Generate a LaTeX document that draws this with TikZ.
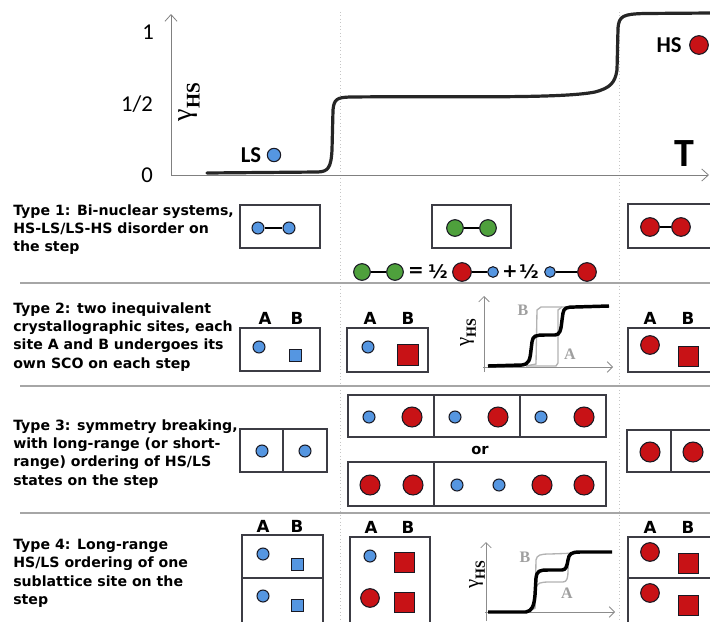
\documentclass[tikz,border=0pt]{standalone}
\usepackage{fontspec}
\newfontfamily\verd{DejaVu Sans}
\newfontfamily\calib{Carlito}
\newfontfamily\timesf{Liberation Serif}
\usetikzlibrary{arrows.meta}
\definecolor{lsblue}{RGB}{85,150,225}
\definecolor{hsred}{RGB}{200,18,22}
\definecolor{mixgreen}{RGB}{78,160,60}
\definecolor{edge}{RGB}{25,25,35}
\newcommand{\ghs}[2]{{\timesf\fontsize{#1}{#1}\selectfont γ\raisebox{-0.3em}{\fontsize{#2}{#2}\selectfont\bfseries HS}}}
\tikzset{
  ls/.style={circle,draw=edge,fill=lsblue,line width=0.8pt,inner sep=0pt,minimum size=9pt},
  hs/.style={circle,draw=edge,fill=hsred,line width=0.8pt,inner sep=0pt,minimum size=14pt},
  mix/.style={circle,draw=edge,fill=mixgreen,line width=0.8pt,inner sep=0pt,minimum size=12.5pt},
  lssq/.style={rectangle,draw=edge,fill=lsblue,line width=0.7pt,inner sep=0pt,minimum size=9pt},
  hssq/.style={rectangle,draw=edge,fill=hsred,line width=0.7pt,inner sep=0pt,minimum size=16pt},
  bond/.style={line width=2pt,black},
  cell/.style={draw=edge!85,line width=0.9pt},
  rowrule/.style={draw=gray!70,line width=1.4pt},
  tline/.style={draw=gray!45,dotted,line width=0.6pt},
  axis/.style={draw=gray,line width=0.6pt,-{Straight Barb[length=5pt,width=9pt]}},
  smallaxis/.style={draw=gray!90,line width=0.6pt,-{Straight Barb[length=4pt,width=8pt]}},
  typetext/.style={anchor=north west,align=left,inner sep=0pt,
    font=\verd\bfseries\fontsize{10.6}{13.8}\selectfont},
  site/.style={inner sep=0pt,font=\verd\bfseries\fontsize{12.5}{12.5}\selectfont},
  tick/.style={inner sep=0pt,font=\calib\fontsize{17}{17}\selectfont},
  spin/.style={inner sep=0pt,font=\calib\bfseries\fontsize{17}{17}\selectfont},
  ghslab/.style={inner sep=0pt,rotate=90},
  curvelab/.style={inner sep=0pt,text=gray!75,font=\timesf\bfseries\fontsize{12}{12}\selectfont},
  eq/.style={inner sep=0pt,font=\verd\bfseries\fontsize{14}{14}\selectfont}
}
\begin{document}
\begin{tikzpicture}[x=0.75pt,y=-0.75pt]
\useasboundingbox (0,0) rectangle (710,621);
\clip (0,0) rectangle (710,621);

% main curve
\draw[tline] (340,12) -- (340,621);
\draw[tline] (619,12) -- (619,621);
\draw[axis] (171,176) -- (171,14);
\draw[axis] (171,175) -- (709,175);
\node[tick] (t1) at (148,32) {1};
\node[tick] (thalf) at (137,104) {1/2};
\node[tick] (t0) at (147,175) {0};
\node[ghslab] (gam) at (189,102) {\ghs{21}{14.5}};
\node[font=\calib\bfseries\fontsize{30}{30}\selectfont,inner sep=0pt] (temp) at (684,154) {T};
\draw[line width=2.4pt,black!85,line cap=round] (207,173) -- (318,172)
  .. controls (328,171.5) and (331,168) .. (332,150) -- (333,110)
  .. controls (334,99) and (337,97.5) .. (350,97)
  .. controls (450,96) and (560,99) .. (595,92)
  .. controls (610,88) and (615,83) .. (617,70) -- (618,28)
  .. controls (619,16) and (623,14) .. (645,13.5) -- (712,13);
\node[spin] (lslab) at (251,155) {LS};
\node[ls,minimum size=10pt] (lsdot) at (274,155) {};
\node[spin] (hslab) at (669,45) {HS};
\node[hs] (hsdot) at (699,45) {};

% type 1
\node[typetext] (type1) at (13,204) {Type 1: Bi-nuclear systems,\\HS-LS/LS-HS disorder on\\the step};
\draw[cell] (240,205) rectangle (320,248);
\node[ls] (a1) at (258,228) {};
\node[ls] (a2) at (289,228) {};
\draw[bond] (a1) -- (a2);
\draw[cell] (432,205) rectangle (511,248);
\node[mix] (m1) at (455,228) {};
\node[mix] (m2) at (488,228) {};
\draw[bond] (m1) -- (m2);
\draw[cell] (628,204) rectangle (712,248);
\node[hs] (h1) at (650,227) {};
\node[hs] (h2) at (681,227) {};
\draw[bond] (h1) -- (h2);
\node[mix] (e1) at (362,272) {};
\node[mix] (e2) at (395,272) {};
\draw[bond] (e1) -- (e2);
\node[eq] (eqs) at (416,272) {=};
\node[eq] (half1) at (438,272) {½};
\node[hs] (e3) at (462,272) {};
\node[ls,minimum size=8pt] (e4) at (493,272) {};
\draw[bond] (e3) -- (e4);
\node[eq] (plus) at (510,272) {+};
\node[eq] (half2) at (529,272) {½};
\node[ls,minimum size=8pt] (e5) at (550,272) {};
\node[hs] (e6) at (587,272) {};
\draw[bond] (e5) -- (e6);
\draw[rowrule] (20,283) -- (710,283);

% type 2
\node[typetext] (type2) at (13,302) {Type 2: two inequivalent\\crystallographic sites, each\\site A and B undergoes its\\own SCO on each step};
\draw[cell] (240,328) rectangle (320,371);
\node[site] (sa1) at (265,318) {A};
\node[site] (sb1) at (297,318) {B};
\node[ls] (c1) at (259,347) {};
\node[lssq] (q1) at (295,355) {};
\draw[cell] (347,328) rectangle (428,372);
\node[site] (sa2) at (370,318) {A};
\node[site] (sb2) at (408,318) {B};
\node[ls] (c2) at (368,347) {};
\node[hssq] (q2) at (408,355) {};
\draw[cell] (628,328) rectangle (712,372);
\node[site] (sa3) at (650,318) {A};
\node[site] (sb3) at (688,318) {B};
\node[hs] (c3) at (650,345) {};
\node[hssq,minimum size=15pt] (q3) at (688,356) {};
\draw[smallaxis] (484,372) -- (484,296);
\draw[smallaxis] (483,367) -- (613,367);
\node[ghslab] (gam2) at (468,333) {\ghs{15.5}{10.5}};
\draw[gray!60,line width=1pt] (526,366) -- (536,364) -- (537,310) -- (541,307) -- (585,307);
\draw[gray!60,line width=1pt] (526,366) -- (556,366) -- (558,363) -- (558,310) -- (562,307);
\draw[line width=2.6pt,black] (488,366) -- (522,365)
  .. controls (529,364) and (530,360) .. (531,350) -- (532,342)
  .. controls (533,336) and (535,335) .. (545,335) -- (555,335)
  .. controls (560,335) and (561,330) .. (562,320) -- (563,313)
  .. controls (564,308) and (566,307) .. (575,307) -- (609,306);
\node[curvelab] (lb2) at (523,310) {B};
\node[curvelab] (la2) at (570,354) {A};
\draw[rowrule] (20,386) -- (710,386);

% type 3
\node[typetext] (type3) at (13,419) {Type 3: symmetry breaking,\\with long-range (or short-\\range) ordering of HS/LS\\states on the step};
\draw[cell] (240,429) rectangle (327,472);
\draw[cell] (283,429) -- (283,472);
\node[ls] (d1) at (262,451) {};
\node[ls] (d2) at (305,451) {};
\draw[cell] (348,395) rectangle (606,437);
\draw[cell] (434,395) -- (434,437);
\draw[cell] (520,395) -- (520,437);
\node[ls] (u1) at (369,417) {};
\node[hs,minimum size=15pt] (u2) at (412,417) {};
\node[ls] (u3) at (455,417) {};
\node[hs,minimum size=15pt] (u4) at (498,417) {};
\node[ls] (u5) at (541,417) {};
\node[hs,minimum size=15pt] (u6) at (584,417) {};
\node[font=\verd\bfseries\fontsize{11}{11}\selectfont,inner sep=0pt] (orlab) at (480,450) {or};
\draw[cell] (348,462) rectangle (606,506);
\draw[cell] (434,462) -- (434,506);
\node[hs,minimum size=15pt] (w1) at (370,485) {};
\node[hs,minimum size=15pt] (w2) at (413,485) {};
\node[ls] (w3) at (457,485) {};
\node[ls] (w4) at (499,485) {};
\node[hs,minimum size=15pt] (w5) at (542,485) {};
\node[hs,minimum size=15pt] (w6) at (584,485) {};
\draw[cell] (627,430) rectangle (712,472);
\draw[cell] (671,430) -- (671,472);
\node[hs,minimum size=15pt] (v1) at (650,452) {};
\node[hs,minimum size=15pt] (v2) at (693,452) {};
\draw[rowrule] (20,513) -- (710,513);

% type 4
\node[typetext] (type4) at (13,539) {Type 4: Long-range\\HS/LS ordering of one\\sublattice site on the\\step};
\draw[cell] (242,535) rectangle (323,625);
\draw[cell] (242,578) -- (323,578);
\node[site] (sa4) at (263,526) {A};
\node[site] (sb4) at (297,526) {B};
\node[ls] (f1) at (263,554) {};
\node[lssq] (p1) at (297,564) {};
\node[ls] (f2) at (263,596) {};
\node[lssq] (p2) at (297,605) {};
\draw[cell] (350,537) rectangle (430,625);
\node[site] (sa5) at (371,527) {A};
\node[site] (sb5) at (408,527) {B};
\node[ls] (f3) at (370,556) {};
\node[hssq,minimum size=15pt] (p3) at (404,562) {};
\node[hs] (f4) at (370,598) {};
\node[hssq,minimum size=15pt] (p4) at (404,602) {};
\draw[cell] (628,537) rectangle (712,625);
\draw[cell] (628,578) -- (712,578);
\node[site] (sa6) at (650,527) {A};
\node[site] (sb6) at (688,527) {B};
\node[hs] (f5) at (650,552) {};
\node[hssq,minimum size=15pt] (p5) at (688,563) {};
\node[hs] (f6) at (650,593) {};
\node[hssq,minimum size=15pt] (p6) at (688,605) {};
\draw[smallaxis] (486,621) -- (486,542);
\draw[smallaxis] (485,612) -- (615,612);
\node[ghslab] (gam3) at (477,575) {\ghs{15.5}{10.5}};
\draw[gray!60,line width=1pt] (528,612) -- (535,608) -- (536,560)
  .. controls (537,555) and (540,554) .. (550,554) -- (578,553);
\draw[gray!60,line width=1pt] (528,612) -- (535,608) -- (536,588)
  .. controls (537,583) and (540,582) .. (550,582) -- (563,582)
  .. controls (567,582) and (568,578) .. (568,570) -- (569,555);
\draw[line width=2.6pt,black] (488,612) -- (526,612)
  .. controls (532,611) and (534,606) .. (535,595) -- (536,578)
  .. controls (537,571) and (539,570) .. (548,570) -- (562,570)
  .. controls (566,570) and (567,566) .. (568,560)
  .. controls (569,554) and (571,552) .. (580,552) -- (612,552);
\node[curvelab] (lb4) at (525,557) {B};
\node[curvelab] (la4) at (567,593) {A};
\end{tikzpicture}
\end{document}
